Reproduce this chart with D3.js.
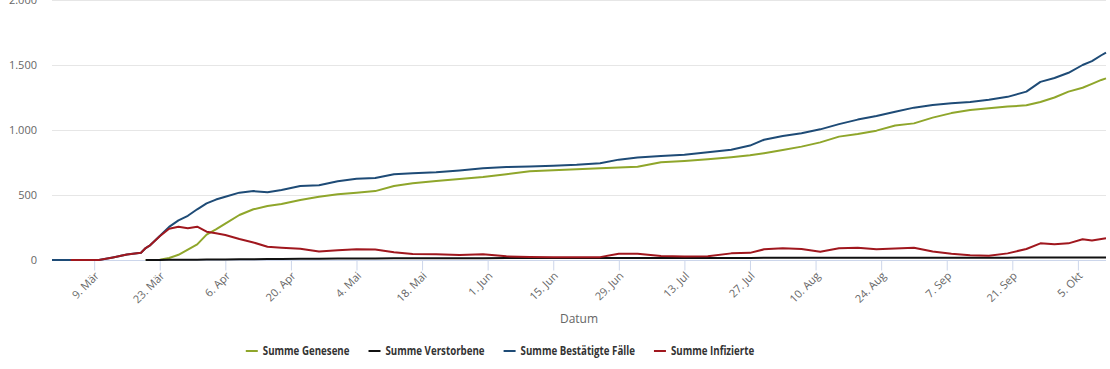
<!DOCTYPE html>
<html>
<head>
<meta charset="utf-8">
<script src="https://cdn.jsdelivr.net/npm/d3@7"></script>
<style>
  body { margin: 0; background: #fff; }
  svg { display: block; }
</style>
</head>
<body>
<svg id="chart"></svg>
<script>
// dates of the data points (2020)
const dates = ["2020-02-29","2020-03-04","2020-03-10","2020-03-13","2020-03-16","2020-03-19","2020-03-20","2020-03-21",
  "2020-03-23","2020-03-25","2020-03-27","2020-03-29","2020-03-31","2020-04-02","2020-04-04","2020-04-06",
  "2020-04-09","2020-04-12","2020-04-15","2020-04-18","2020-04-22","2020-04-26","2020-04-30","2020-05-04",
  "2020-05-08","2020-05-12","2020-05-16","2020-05-21","2020-05-26","2020-05-31","2020-06-05","2020-06-10",
  "2020-06-15","2020-06-20","2020-06-25","2020-06-29","2020-07-03","2020-07-08","2020-07-13","2020-07-18",
  "2020-07-23","2020-07-27","2020-07-30","2020-08-03","2020-08-07","2020-08-11","2020-08-15","2020-08-19",
  "2020-08-23","2020-08-27","2020-08-31","2020-09-04","2020-09-08","2020-09-12","2020-09-16","2020-09-20",
  "2020-09-24","2020-09-27","2020-09-30","2020-10-03","2020-10-06","2020-10-08","2020-10-10","2020-10-11"];

const genesene = [null,null,null,null,null,null,0,0,
  2,15,40,80,120,195,235,280,
  346,390,415,430,462,487,505,518,
  530,569,590,608,623,638,660,682,
  690,698,706,712,718,752,762,775,
  790,805,822,846,872,905,949,970,
  995,1035,1051,1095,1130,1154,1168,1180,
  1190,1215,1250,1295,1325,1355,1385,1397];

const verstorbene = [null,null,null,null,null,null,0,0,
  0,1,1,2,2,3,3,4,
  5,6,7,8,9,10,11,12,
  12,13,13,14,14,14,15,15,
  15,15,15,16,16,16,16,16,
  16,16,17,17,17,17,17,17,
  17,18,18,18,18,18,18,18,
  19,19,19,20,20,20,20,20];

const bestaetigt = [0,0,0,20,42,56,92,115,
  185,255,305,340,390,435,465,487,
  518,530,521,538,569,575,605,625,
  630,660,668,675,688,705,715,720,
  725,732,745,772,788,800,810,828,
  848,880,925,954,975,1005,1045,1080,
  1108,1141,1172,1193,1205,1215,1232,1255,
  1295,1370,1400,1440,1500,1530,1575,1595];

const infiziert = [null,0,0,20,42,56,92,115,
  183,240,255,245,256,218,205,192,
  161,135,102,95,87,66,75,82,
  80,59,46,44,38,44,28,24,
  21,21,22,48,48,30,26,28,
  51,55,82,90,85,64,90,95,
  82,88,95,65,48,36,33,51,
  85,128,122,128,160,150,162,167];

const seriesNames = ["Summe Genesene", "Summe Verstorbene", "Summe Bestätigte Fälle", "Summe Infizierte"];
const seriesColors = ["#8fa62b", "#111111", "#1e4b76", "#a0171e"];

const tickDates = ["2020-03-09","2020-03-23","2020-04-06","2020-04-20","2020-05-04","2020-05-18","2020-06-01","2020-06-15",
  "2020-06-29","2020-07-13","2020-07-27","2020-08-10","2020-08-24","2020-09-07","2020-09-21","2020-10-05"];
const tickLabels = ["9. Mär","23. Mär","6. Apr","20. Apr","4. Mai","18. Mai","1. Jun","15. Jun",
  "29. Jun","13. Jul","27. Jul","10. Aug","24. Aug","7. Sep","21. Sep","5. Okt"];
const yTicks = [0, 500, 1000, 1500, 2000];

const width = 1110, height = 369;
const plot = { left: 52, right: 1106, top: 0, bottom: 260 };

const parse = d3.timeParse("%Y-%m-%d");
const de = d3.formatLocale({ decimal: ",", thousands: ".", grouping: [3], currency: ["", " €"] });
const fmt = de.format(",");

const svg = d3.select("#chart")
  .attr("width", width)
  .attr("height", height)
  .style("font-family", "'Open Sans', sans-serif");

const x = d3.scaleTime()
  .domain([parse(dates[0]), parse(dates[dates.length - 1])])
  .range([plot.left, plot.right]);

const y = d3.scaleLinear()
  .domain([0, 2000])
  .range([plot.bottom, plot.top]);

// grid lines
svg.append("g")
  .selectAll("line")
  .data(yTicks.filter(d => d > 0))
  .join("line")
  .attr("x1", plot.left)
  .attr("x2", plot.right)
  .attr("y1", d => y(d) + 0.5)
  .attr("y2", d => y(d) + 0.5)
  .attr("stroke", "#e6e6e6");

// y axis labels
svg.append("g")
  .selectAll("text")
  .data(yTicks)
  .join("text")
  .attr("x", 37)
  .attr("y", d => y(d) + 4)
  .attr("text-anchor", "end")
  .attr("fill", "#666")
  .style("font-size", "11px")
  .text(d => fmt(d));

// x axis
const xAxis = svg.append("g")
  .attr("transform", `translate(0, ${plot.bottom + 0.5})`)
  .call(d3.axisBottom(x)
    .tickValues(tickDates.map(parse))
    .tickSize(10)
    .tickFormat((d, i) => tickLabels[i]));

xAxis.select(".domain").attr("stroke", "#ccd6eb").attr("d", `M${plot.left},0H${plot.right}`);
xAxis.selectAll(".tick line").attr("stroke", "#ccd6eb");
xAxis.selectAll(".tick text")
  .attr("fill", "#666")
  .style("font-size", "11px")
  .style("font-family", "'Open Sans', sans-serif")
  .attr("text-anchor", "end")
  .attr("dy", null)
  .attr("y", 0)
  .attr("transform", "translate(5, 16) rotate(-45)");

svg.append("text")
  .attr("x", (plot.left + plot.right) / 2)
  .attr("y", 323)
  .attr("text-anchor", "middle")
  .attr("fill", "#666")
  .style("font-size", "12px")
  .text("Datum");

// lines
const allSeries = [genesene, verstorbene, bestaetigt, infiziert];
const line = d3.line()
  .defined(d => d.v != null)
  .x(d => x(d.date))
  .y(d => y(d.v));

allSeries.forEach((vals, i) => {
  const pts = dates.map((d, j) => ({ date: parse(d), v: vals[j] }));
  svg.append("path")
    .datum(pts)
    .attr("d", line)
    .attr("fill", "none")
    .attr("stroke", seriesColors[i])
    .attr("stroke-width", 2)
    .attr("stroke-linejoin", "round");
});

// legend (condensed bold font in the original, so squeeze the text a bit)
const legend = svg.append("g");
const items = legend.selectAll("g")
  .data(seriesNames)
  .join("g");

items.append("line")
  .attr("x1", 0).attr("x2", 12)
  .attr("y1", 0).attr("y2", 0)
  .attr("stroke", (d, i) => seriesColors[i])
  .attr("stroke-width", 2);

items.append("text")
  .attr("x", 17)
  .attr("y", 4)
  .attr("fill", "#333")
  .style("font-size", "12px")
  .style("font-weight", "bold")
  .text(d => d);

let offset = 0;
items.each(function () {
  const t = this.querySelector("text");
  const w = t.getComputedTextLength() * 0.81;
  d3.select(t).attr("textLength", w).attr("lengthAdjust", "spacingAndGlyphs");
  this.setAttribute("data-x", offset);
  offset += 17 + w + 19;
});
const total = offset - 19;
const startX = 500 - total / 2;
items.attr("transform", function () {
  return `translate(${startX + (+this.getAttribute("data-x"))}, 351)`;
});
</script>
</body>
</html>
